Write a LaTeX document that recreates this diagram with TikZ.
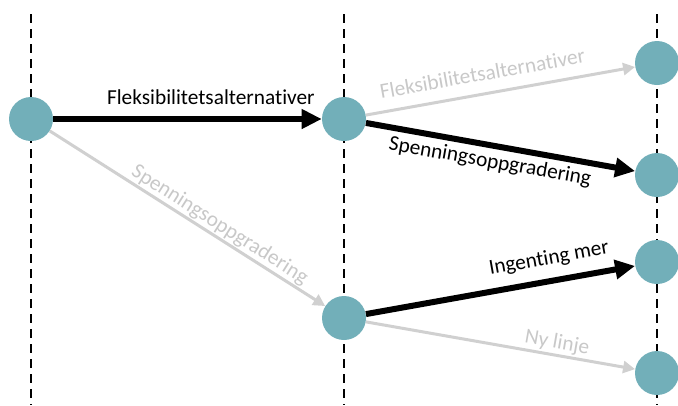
\documentclass[tikz,border=0pt]{standalone}
\usepackage{fontspec}
\setmainfont{Carlito}[Ligatures=NoCommon]
\usetikzlibrary{arrows.meta}
\definecolor{teal1}{HTML}{72AFB9}
\definecolor{lgray}{HTML}{D0D0D0}
\definecolor{tgray}{HTML}{C8C8C8}
\tikzset{
  state/.style={circle, fill=teal1, draw=none, minimum size=33pt, inner sep=0pt},
  timeline/.style={black, line width=1.5pt, dash pattern=on 6.75pt off 4.5pt},
  chosen/.style={black, line width=4.5pt, -{Triangle[length=15pt,width=14pt]}},
  other/.style={lgray, line width=2.25pt, -{Triangle[length=9pt,width=9pt]}},
  lbl/.style={sloped, inner sep=0pt, text height=0pt, text depth=0pt, font=\fontsize{16}{19}\selectfont},
  lblk/.style={lbl, text=black},
  lblg/.style={lbl, text=tgray},
}
\begin{document}
\begin{tikzpicture}[x=0.75pt, y=-0.75pt]
\useasboundingbox (0,0) rectangle (678,405);
% timelines
\coordinate (t1a) at (31,14);  \coordinate (t1b) at (31,405);
\coordinate (t2a) at (344,14); \coordinate (t2b) at (344,405);
\coordinate (t3a) at (657,14); \coordinate (t3b) at (657,405);
\draw[timeline] (t1a) -- (t1b);
\draw[timeline] (t2a) -- (t2b);
\draw[timeline] (t3a) -- (t3b);
% states
\node[state] (s0) at (31,119) {};
\node[state] (s1) at (344,119) {};
\node[state] (s2) at (344,318) {};
\node[state] (s3) at (657,63) {};
\node[state] (s4) at (657,175) {};
\node[state] (s5) at (657,262) {};
\node[state] (s6) at (657,373) {};
% connectors
\draw[other] (s0) -- node[lblg, pos=0.594, above=3pt] {Spenningsoppgradering} (s2);
\draw[other] (s1) -- node[lblg, pos=0.446, above=8.25pt] {Fleksibilitetsalternativer} (s3);
\draw[other] (s2) -- node[lblg, pos=0.702, above=3.4pt] {Ny linje} (s6);
\draw[chosen] (s0) -- node[lblk, pos=0.587, above=8.25pt] {Fleksibilitetsalternativer} (s1);
\draw[chosen] (s1) -- node[lblk, pos=0.472, below=13.9pt] {Spenningsoppgradering} (s4);
\draw[chosen] (s2) -- node[lblk, pos=0.695, above=9.75pt] {Ingenting mer} (s5);
\end{tikzpicture}
\end{document}
